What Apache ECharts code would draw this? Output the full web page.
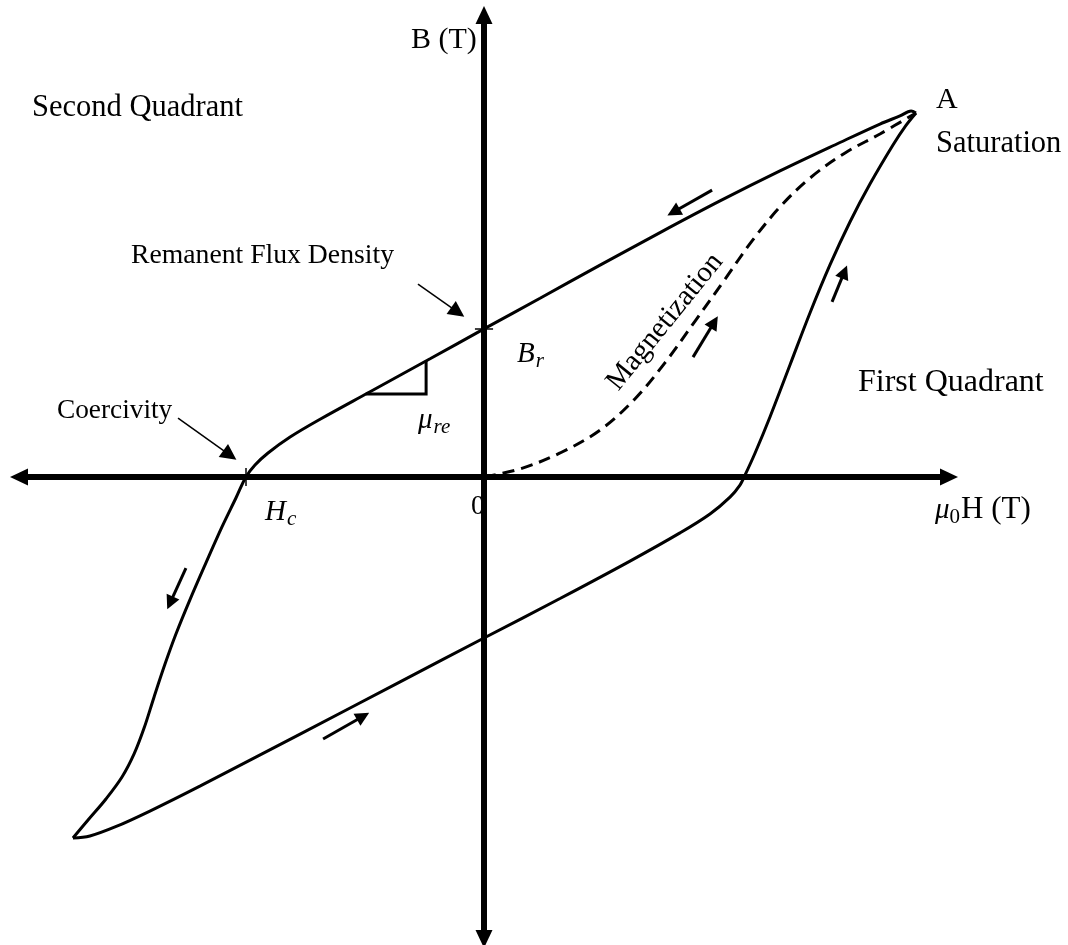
<!DOCTYPE html>
<html>
<head>
<meta charset="utf-8">
<script src="https://cdn.jsdelivr.net/npm/echarts@6/dist/echarts.min.js"></script>
<style>
  html, body { margin: 0; padding: 0; background: #fff; }
  #chart { width: 1068px; height: 945px; }
</style>
</head>
<body>
<div id="chart"></div>
<script>
// Hysteresis loop of a permanent magnet (normalised units on both axes).

// Descending branch: from saturation A down through Br and Hc to negative saturation
const descH = [1.858, 1.837, 1.789, 1.703, 1.531, 1.273, 1.015, 0.757, 0.499, 0.241, 0.000,
  -0.232, -0.490, -0.705, -0.834, -0.929, -0.985, -1.024, -1.067, -1.127, -1.196, -1.265,
  -1.325, -1.372, -1.419, -1.462, -1.505, -1.557, -1.626, -1.703, -1.768];
const descB = [1.576, 1.584, 1.563, 1.528, 1.448, 1.325, 1.195, 1.058, 0.917, 0.774, 0.641,
  0.512, 0.369, 0.250, 0.173, 0.104, 0.052, 0.000, -0.091, -0.216, -0.372, -0.532,
  -0.680, -0.810, -0.952, -1.087, -1.199, -1.299, -1.394, -1.485, -1.563];

// Ascending branch: from negative saturation back up to A
const ascH = [-1.768, -1.695, -1.587, -1.437, -1.222, -0.791, -0.361, 0.000, 0.327, 0.628, 0.843,
  0.972, 1.058, 1.101, 1.123, 1.166, 1.230, 1.316, 1.402, 1.488, 1.574, 1.660, 1.759, 1.815, 1.858];
const ascB = [-1.563, -1.554, -1.515, -1.446, -1.338, -1.113, -0.887, -0.697, -0.526, -0.364, -0.242,
  -0.160, -0.087, -0.035, 0.009, 0.104, 0.260, 0.485, 0.710, 0.918, 1.104, 1.268, 1.437, 1.522, 1.576];

// Initial magnetization curve from the demagnetised state
const initH = [0.000, 0.155, 0.327, 0.499, 0.649, 0.778, 0.908, 1.037, 1.153, 1.273, 1.402, 1.553,
  1.703, 1.858];
const initB = [0.000, 0.035, 0.104, 0.203, 0.338, 0.494, 0.675, 0.857, 1.022, 1.169, 1.294, 1.403,
  1.485, 1.576];

// Direction arrows along the loop: [startH, startB, endH, endB]
const flowArrows = [
  [0.981, 1.242, 0.815, 1.147],
  [0.899, 0.519, 0.990, 0.670],
  [1.497, 0.758, 1.550, 0.888],
  [-1.282, -0.394, -1.350, -0.545],
  [-0.692, -1.134, -0.520, -1.036]
];

// Annotation pointers: Remanent Flux Density, Coercivity
const pointerArrows = [
  [-0.284, 0.835, -0.113, 0.714],
  [-1.316, 0.255, -1.093, 0.095]
];

// Key points
const Hc = -1.024;
const Br = 0.641;
const tickHalf = 0.039;

// Recoil permeability triangle: corner H, lower B, upper B, left H
const reH = -0.249, reLowB = 0.359, reHighB = 0.503, reLeftH = -0.508;

const zip = (a, b) => a.map((v, i) => [v, b[i]]);
const arrowData = arr => arr.map(a => ({ coords: [[a[0], a[1]], [a[2], a[3]]] }));

const serifFont = "'Liberation Serif', 'Times New Roman', serif";
const black = '#000';

const chart = echarts.init(document.getElementById('chart'), null, { renderer: 'canvas' });

const mathRich = {
  i: { fontFamily: serifFont, fontStyle: 'italic', fontSize: 29, fill: black },
  s: { fontFamily: serifFont, fontStyle: 'italic', fontSize: 21, fill: black, padding: [14, 0, 0, 1] },
  n: { fontFamily: serifFont, fontSize: 31, fill: black },
  sn: { fontFamily: serifFont, fontSize: 21, fill: black, padding: [14, 1, 0, 0] }
};

function label(text, x, y, size) {
  return {
    type: 'text', x: x, y: y, z: 100,
    style: { text: text, font: size + 'px ' + serifFont, fill: black, verticalAlign: 'middle', align: 'left' }
  };
}
function mathLabel(text, x, y) {
  return {
    type: 'text', x: x, y: y, z: 100,
    style: { text: text, rich: mathRich, verticalAlign: 'middle', align: 'left', fill: black }
  };
}

const curveStyle = { color: black, width: 3 };

const option = {
  animation: false,
  backgroundColor: '#fff',
  grid: { left: 19, right: 119, top: 15, bottom: 6, containLabel: false, outerBoundsMode: 'none' },
  xAxis: {
    type: 'value', min: -2, max: 2,
    axisLine: { show: true, onZero: true, symbol: ['triangle', 'triangle'], symbolSize: [17, 18],
      lineStyle: { color: black, width: 6 } },
    axisTick: { show: false }, axisLabel: { show: false }, splitLine: { show: false }
  },
  yAxis: {
    type: 'value', min: -2, max: 2,
    axisLine: { show: true, onZero: true, symbol: ['triangle', 'triangle'], symbolSize: [17, 18],
      lineStyle: { color: black, width: 6 } },
    axisTick: { show: false }, axisLabel: { show: false }, splitLine: { show: false }
  },
  series: [
    {
      name: 'Descending', type: 'line', data: zip(descH, descB), smooth: 0.35,
      showSymbol: false, lineStyle: curveStyle, z: 5
    },
    {
      name: 'Ascending', type: 'line', data: zip(ascH, ascB), smooth: 0.35,
      showSymbol: false, lineStyle: curveStyle, z: 5
    },
    {
      name: 'Magnetization', type: 'line', data: zip(initH, initB), smooth: 0.35,
      showSymbol: false, lineStyle: { color: black, width: 3, type: [12, 7] }, z: 5
    },
    {
      name: 'Flow', type: 'lines', coordinateSystem: 'cartesian2d',
      symbol: ['none', 'triangle'], symbolSize: 14,
      lineStyle: { color: black, width: 3, opacity: 1 }, data: arrowData(flowArrows), z: 6
    },
    {
      name: 'Pointers', type: 'lines', coordinateSystem: 'cartesian2d',
      symbol: ['none', 'triangle'], symbolSize: 16,
      lineStyle: { color: black, width: 1.5, opacity: 1 }, data: arrowData(pointerArrows), z: 6
    },
    {
      name: 'Ticks', type: 'lines', coordinateSystem: 'cartesian2d', symbol: 'none',
      lineStyle: { color: black, width: 1.5, opacity: 1 },
      data: [
        { coords: [[Hc, -tickHalf], [Hc, tickHalf]] },
        { coords: [[-tickHalf, Br], [tickHalf, Br]] }
      ], z: 6
    },
    {
      name: 'Recoil', type: 'lines', coordinateSystem: 'cartesian2d', polyline: true, symbol: 'none',
      lineStyle: { color: black, width: 3, opacity: 1 },
      data: [{ coords: [[reH, reHighB], [reH, reLowB], [reLeftH, reLowB]] }], z: 6
    }
  ],
  graphic: [
    label('B (T)', 411, 40, 30),
    label('Second Quadrant', 32, 108, 30.5),
    label('A', 936, 100, 30),
    label('Saturation', 936, 144, 30.5),
    label('Remanent Flux Density', 131, 256, 27.7),
    label('Coercivity', 57, 411, 27.3),
    label('First Quadrant', 858, 383, 32),
    label('0', 471, 507, 28),
    mathLabel('{i|B}{s|r}', 517, 354),
    mathLabel('{i|H}{s|c}', 265, 512),
    mathLabel('{i|μ}{s|re}', 418, 420),
    mathLabel('{i|μ}{sn|0}{n|H (T)}', 935, 510),
    {
      type: 'text', x: 665, y: 322, rotation: 51 * Math.PI / 180, z: 100,
      style: { text: 'Magnetization', font: '29px ' + serifFont, fill: black, align: 'center', verticalAlign: 'middle' }
    }
  ]
};

chart.setOption(option);
</script>
</body>
</html>
